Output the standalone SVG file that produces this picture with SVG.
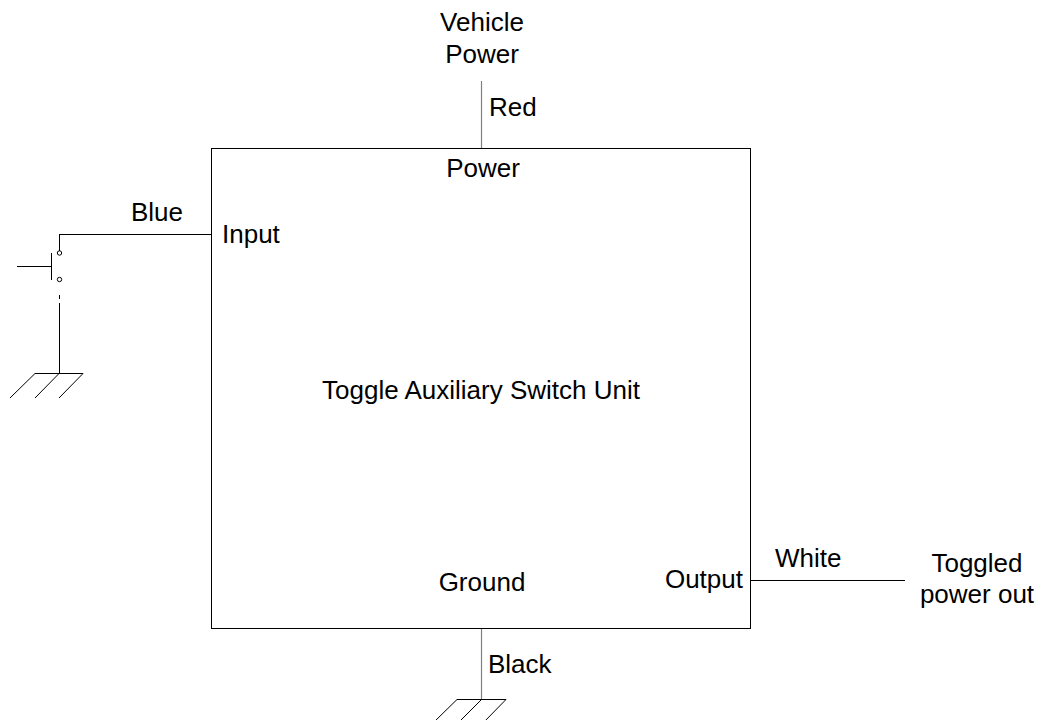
<svg xmlns="http://www.w3.org/2000/svg" width="1043" height="720" viewBox="0 0 1043 720">
<style>
text{font-family:"Liberation Sans",Arial,sans-serif;font-size:26px;fill:#000}
.w{stroke:#808080;stroke-width:1.2;fill:none}
.k{stroke:#000;stroke-width:1;fill:none}
.c{text-anchor:middle}
</style>
<rect width="1043" height="720" fill="#fff"/>
<g id="unit">
<rect x="211.5" y="148.5" width="539" height="480" class="k"/>
<text x="481" y="399" class="c">Toggle Auxiliary Switch Unit</text>
<text x="483" y="177" class="c">Power</text>
<text x="222" y="243">Input</text>
<text x="482" y="591" class="c">Ground</text>
<text x="743" y="588" text-anchor="end">Output</text>
</g>
<g id="vehicle-power">
<text x="482" y="31" class="c">Vehicle</text>
<text x="482" y="63" class="c">Power</text>
</g>
<g id="toggled-out">
<text x="977" y="572" class="c">Toggled</text>
<text x="977" y="603" class="c">power out</text>
</g>
<g id="switch">
<line x1="59.5" y1="234" x2="59.5" y2="251" class="k"/>
<circle cx="59.5" cy="253" r="2.2" class="k"/>
<circle cx="59.5" cy="279.5" r="2.2" class="k"/>
<line x1="51.5" y1="253" x2="51.5" y2="280" class="k"/>
<line x1="17" y1="266.5" x2="51.5" y2="266.5" class="k"/>
</g>
<g id="ground-left">
<line x1="35" y1="373.5" x2="83" y2="373.5" class="k"/>
<line x1="35" y1="373.5" x2="10" y2="398" class="k"/>
<line x1="59" y1="373.5" x2="35" y2="398" class="k"/>
<line x1="83" y1="373.5" x2="59" y2="398" class="k"/>
</g>
<g id="ground-bottom">
<line x1="457" y1="699.5" x2="506" y2="699.5" class="k"/>
<line x1="457" y1="699.5" x2="432" y2="724" class="k"/>
<line x1="481.5" y1="699.5" x2="457" y2="724" class="k"/>
<line x1="506" y1="699.5" x2="482" y2="724" class="k"/>
</g>
<g id="connectors">
<line x1="481.5" y1="81" x2="481.5" y2="148" class="w"/>
<text x="489" y="116">Red</text>
<line x1="59" y1="234.5" x2="211" y2="234.5" class="k" stroke="#333"/>
<text x="131" y="221">Blue</text>
<line x1="59.5" y1="295" x2="59.5" y2="299" class="k"/>
<line x1="59.5" y1="303" x2="59.5" y2="373" class="k"/>
<line x1="481.5" y1="629" x2="481.5" y2="699" class="w"/>
<text x="488" y="673">Black</text>
<line x1="751" y1="580.5" x2="905" y2="580.5" class="k"/>
<text x="775" y="567">White</text>
</g>
</svg>
